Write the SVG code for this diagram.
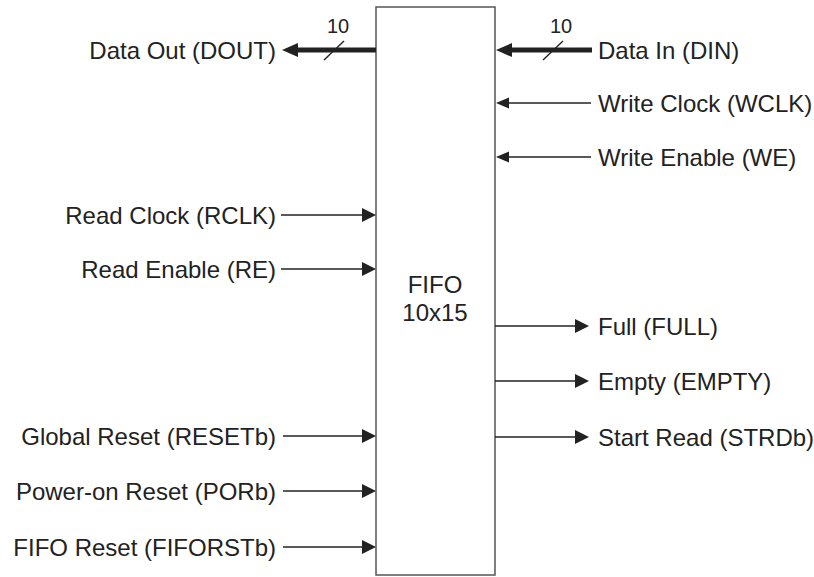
<svg xmlns="http://www.w3.org/2000/svg" width="814" height="577" viewBox="0 0 814 577">
<style>
text{font-family:"Liberation Sans",Arial,sans-serif;font-size:24px;fill:#222}
.l{text-anchor:end}
.c{text-anchor:middle}
.bus{font-size:20px}
.w{stroke:#222;stroke-width:1.4;fill:none}
.t{stroke:#222;stroke-width:5;fill:none}
.h{fill:#222;stroke:none}
</style>
<rect width="814" height="577" fill="#fff"/>
<g id="fifo">
<rect x="376" y="7" width="119" height="568" fill="#fff" stroke="#555" stroke-width="1.5"/>
<text class="c" x="435" y="293">FIFO</text>
<text class="c" x="435" y="321">10x15</text>
</g>
<g id="labels">
<text class="l" x="276" y="58.5">Data Out (DOUT)</text>
<text class="l" x="276" y="223.5">Read Clock (RCLK)</text>
<text class="l" x="276" y="277.5">Read Enable (RE)</text>
<text class="l" x="276" y="444.5">Global Reset (RESETb)</text>
<text class="l" x="276" y="499.5">Power-on Reset (PORb)</text>
<text class="l" x="276" y="555.5">FIFO Reset (FIFORSTb)</text>
<text x="598" y="58.5">Data In (DIN)</text>
<text x="598" y="111.5">Write Clock (WCLK)</text>
<text x="598" y="165.5">Write Enable (WE)</text>
<text x="598" y="334.5">Full (FULL)</text>
<text x="598" y="389.5">Empty (EMPTY)</text>
<text x="598" y="445.5">Start Read (STRDb)</text>
<text class="c bus" x="338" y="33">10</text>
<text class="c bus" x="561" y="33">10</text>
</g>
<g id="connectors">
<line class="t" x1="376" y1="50" x2="296" y2="50"/>
<polygon class="h" points="282,50 298,43 298,57"/>
<line class="w" x1="324" y1="60" x2="344" y2="41"/>
<line class="t" x1="592" y1="50" x2="510" y2="50"/>
<polygon class="h" points="496,50 512,43 512,57"/>
<line class="w" x1="543" y1="60" x2="563" y2="41"/>
<line class="w" x1="591" y1="103" x2="505" y2="103"/>
<polygon class="h" points="496,103 509,97.5 509,108.5"/>
<line class="w" x1="591" y1="157" x2="505" y2="157"/>
<polygon class="h" points="496,157 509,151.5 509,162.5"/>
<line class="w" x1="281" y1="215" x2="365" y2="215"/>
<polygon class="h" points="376,215 362,208 362,222"/>
<line class="w" x1="281" y1="269" x2="365" y2="269"/>
<polygon class="h" points="376,269 362,262 362,276"/>
<line class="w" x1="283" y1="436" x2="365" y2="436"/>
<polygon class="h" points="376,436 362,429 362,443"/>
<line class="w" x1="283" y1="491" x2="365" y2="491"/>
<polygon class="h" points="376,491 362,484 362,498"/>
<line class="w" x1="283" y1="547" x2="365" y2="547"/>
<polygon class="h" points="376,547 362,540 362,554"/>
<line class="w" x1="495" y1="326" x2="577" y2="326"/>
<polygon class="h" points="589,326 575,319 575,333"/>
<line class="w" x1="495" y1="381" x2="577" y2="381"/>
<polygon class="h" points="589,381 575,374 575,388"/>
<line class="w" x1="495" y1="437" x2="577" y2="437"/>
<polygon class="h" points="589,437 575,430 575,444"/>
</g>
</svg>
